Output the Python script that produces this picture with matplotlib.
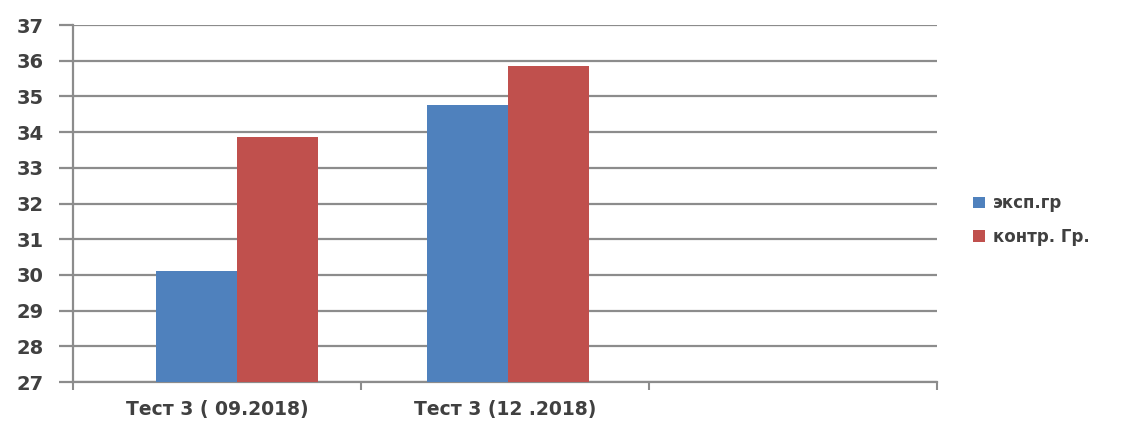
import matplotlib.pyplot as plt
import numpy as np

categories = ["Тест 3 ( 09.2018)", "Тест 3 (12 .2018)", ""]
exp_group = [30.1, 34.75]
ctrl_group = [33.85, 35.85]
series_names = ["эксп.гр", "контр. Гр."]
yticks = list(range(27, 38))

blue = "#4F81BD"
red = "#C0504D"
text_col = "#404040"
grid_col = "#8c8c8c"

fig = plt.figure(figsize=(11.3, 4.21), dpi=100)
ax = fig.add_axes([0.0646, 0.0926, 0.7646, 0.848])

w = 0.282
# group centres sit slightly off the category centres in the original
x = np.arange(len(exp_group)) * 0.94 + 0.07
ax.bar(x - w / 2, exp_group, w, color=blue, label=series_names[0], zorder=3)
ax.bar(x + w / 2, ctrl_group, w, color=red, label=series_names[1], zorder=3)

ax.set_xlim(-0.5, 2.5)
ax.set_ylim(27, 37)
ax.set_yticks(yticks)
ax.yaxis.grid(True, color=grid_col, lw=1.6, zorder=0)

# category boundaries as tick marks, labels centred in between
ax.set_xticks(np.arange(-0.5, 3.0, 1.0))
ax.set_xticklabels([])
ax.set_xticks(np.arange(3), minor=True)
ax.set_xticklabels(categories, minor=True)
ax.tick_params(axis="x", which="minor", length=0, pad=13)
ax.tick_params(axis="x", which="major", length=6, color=grid_col, width=1.5, direction="out")
ax.tick_params(axis="y", length=10, color=grid_col, width=1.6, pad=11)

for lab in ax.get_yticklabels():
    lab.set_fontweight("bold")
    lab.set_color(text_col)
    lab.set_fontsize(14)
for lab in ax.get_xticklabels(minor=True):
    lab.set_fontweight("bold")
    lab.set_color(text_col)
    lab.set_fontsize(13.5)

for side in ["top", "right"]:
    ax.spines[side].set_visible(False)
for side in ["left", "bottom"]:
    ax.spines[side].set_color(grid_col)
    ax.spines[side].set_linewidth(1.6)

leg = fig.legend(loc="center left", bbox_to_anchor=(0.848, 0.477), frameon=False,
                 handlelength=0.7, handleheight=0.7, handletextpad=0.5,
                 labelspacing=0.95, prop={"weight": "bold", "size": 12})
for t in leg.get_texts():
    t.set_color(text_col)

fig.savefig("out.png", dpi=100)
